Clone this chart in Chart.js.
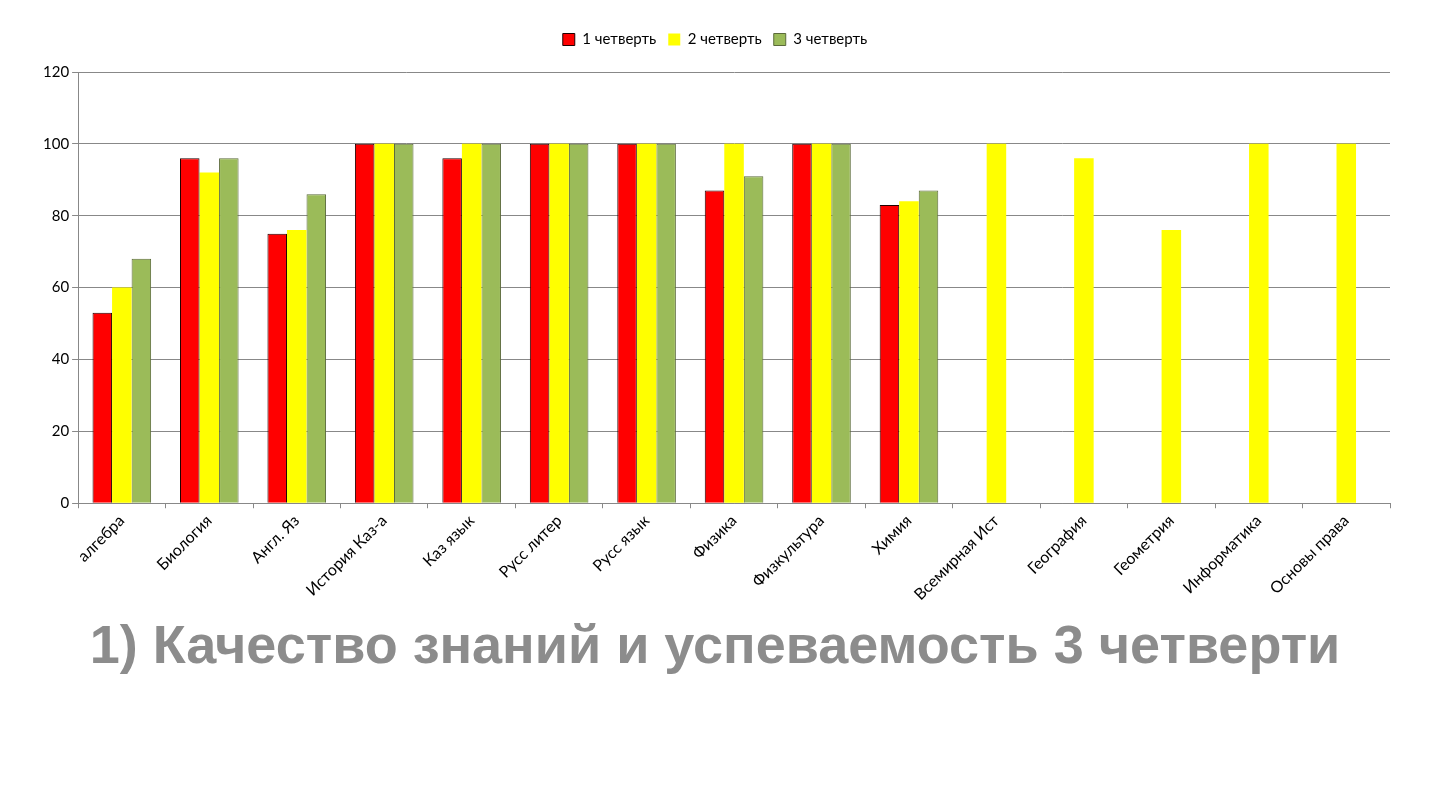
<!DOCTYPE html>
<html>
<head>
<meta charset="utf-8">
<title>Качество знаний</title>
<script src="https://cdn.jsdelivr.net/npm/chart.js@4.4.1/dist/chart.umd.min.js"></script>
<style>
  html, body { margin: 0; padding: 0; background: #fff; }
  #wrap { width: 1440px; height: 810px; position: relative; }
</style>
</head>
<body>
<div id="wrap"><canvas id="chart"></canvas></div>
<script>
const subjects = ['алгебра', 'Биология', 'Англ. Яз', 'История Каз-а', 'Каз язык', 'Русс литер',
  'Русс язык', 'Физика', 'Физкультура', 'Химия', 'Всемирная Ист', 'География',
  'Геометрия', 'Информатика', 'Основы права'];
const quarter1 = [53, 96, 75, 100, 96, 100, 100, 87, 100, 83, null, null, null, null, null];
const quarter2 = [60, 92, 76, 100, 100, 100, 100, 100, 100, 84, 100, 96, 76, 100, 100];
const quarter3 = [68, 96, 86, 100, 100, 100, 100, 91, 100, 87, null, null, null, null, null];
const yTicks = [0, 20, 40, 60, 80, 100, 120];

const labelFont = { family: 'Lato, "Open Sans", sans-serif', size: 15 };
const catFont = { family: 'Lato, "Open Sans", sans-serif', size: 16 };

// extra room under the legend
const legendGap = {
  id: 'legendGap',
  beforeInit(chart) {
    const fit = chart.legend.fit;
    chart.legend.fit = function () {
      fit.bind(chart.legend)();
      this.height += 15;
    };
  }
};

new Chart(document.getElementById('chart'), {
  type: 'bar',
  data: {
    labels: subjects,
    datasets: [
      { label: '1 четверть', data: quarter1, backgroundColor: '#ff0000', borderColor: '#200000', borderWidth: 1 },
      { label: '2 четверть', data: quarter2, backgroundColor: '#ffff00', borderColor: '#ffff00', borderWidth: 0 },
      { label: '3 четверть', data: quarter3, backgroundColor: '#9bbb59', borderColor: '#5b6a3a', borderWidth: 1 }
    ]
  },
  options: {
    responsive: true,
    maintainAspectRatio: false,
    animation: false,
    layout: { padding: { left: 40, right: 50, top: 20, bottom: 129 } },
    datasets: { bar: { categoryPercentage: 0.67, barPercentage: 1 } },
    plugins: {
      legend: {
        position: 'top',
        labels: {
          boxWidth: 12, boxHeight: 12, padding: 12,
          color: '#000', font: labelFont
        }
      },
      title: {
        display: true,
        position: 'bottom',
        text: '1) Качество знаний и успеваемость 3 четверти',
        color: '#8c8c8c',
        font: { family: '"Liberation Sans", Arial, sans-serif', size: 54, weight: 'bold' },
        padding: { top: 9, bottom: 0 }
      },
      tooltip: { enabled: false }
    },
    scales: {
      x: {
        grid: { display: true, drawOnChartArea: false, drawTicks: true, tickLength: 5, color: '#888' },
        border: { display: true, color: '#888' },
        ticks: { maxRotation: 45, minRotation: 45, color: '#000', font: catFont, padding: 3 }
      },
      y: {
        min: 0, max: 120,
        afterBuildTicks: axis => { axis.ticks = yTicks.map(v => ({ value: v })); },
        grid: { color: '#888', tickLength: 6 },
        border: { display: true, color: '#888' },
        ticks: { color: '#000', font: labelFont, padding: 3 }
      }
    }
  },
  plugins: [legendGap]
});
</script>
</body>
</html>
